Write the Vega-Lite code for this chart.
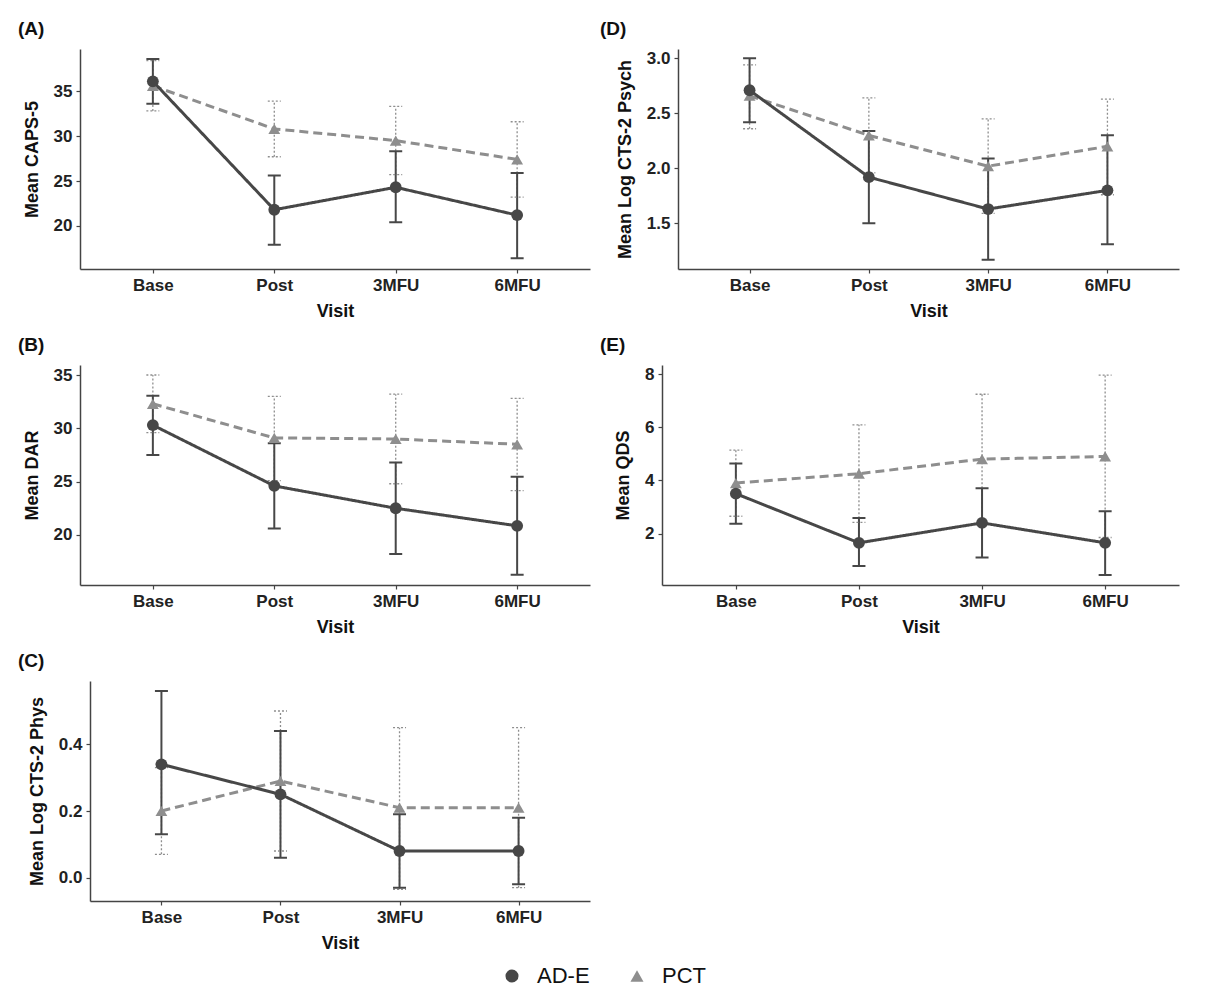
{
  "$schema": "https://vega.github.io/schema/vega-lite/v6.json",
  "padding": {"left": 18, "top": 20, "right": 10, "bottom": 10},
  "background": "white",
  "bounds": "flush",
  "spacing": 316,
  "data": {"values": [
    {"panel": "A", "group": "PCT", "visit": "Base", "mean": 35.6, "lo": 32.8, "hi": 38.4},
    {"panel": "A", "group": "PCT", "visit": "Post", "mean": 30.8, "lo": 27.7, "hi": 33.9},
    {"panel": "A", "group": "PCT", "visit": "3MFU", "mean": 29.5, "lo": 25.7, "hi": 33.3},
    {"panel": "A", "group": "PCT", "visit": "6MFU", "mean": 27.4, "lo": 23.2, "hi": 31.6},
    {"panel": "A", "group": "AD-E", "visit": "Base", "mean": 36.1, "lo": 33.6, "hi": 38.6},
    {"panel": "A", "group": "AD-E", "visit": "Post", "mean": 21.8, "lo": 17.9, "hi": 25.6},
    {"panel": "A", "group": "AD-E", "visit": "3MFU", "mean": 24.3, "lo": 20.4, "hi": 28.3},
    {"panel": "A", "group": "AD-E", "visit": "6MFU", "mean": 21.2, "lo": 16.4, "hi": 25.9},
    {"panel": "D", "group": "PCT", "visit": "Base", "mean": 2.66, "lo": 2.36, "hi": 2.94},
    {"panel": "D", "group": "PCT", "visit": "Post", "mean": 2.30, "lo": 1.96, "hi": 2.64},
    {"panel": "D", "group": "PCT", "visit": "3MFU", "mean": 2.02, "lo": 1.59, "hi": 2.45},
    {"panel": "D", "group": "PCT", "visit": "6MFU", "mean": 2.20, "lo": 1.76, "hi": 2.63},
    {"panel": "D", "group": "AD-E", "visit": "Base", "mean": 2.71, "lo": 2.42, "hi": 3.00},
    {"panel": "D", "group": "AD-E", "visit": "Post", "mean": 1.92, "lo": 1.50, "hi": 2.34},
    {"panel": "D", "group": "AD-E", "visit": "3MFU", "mean": 1.63, "lo": 1.17, "hi": 2.09},
    {"panel": "D", "group": "AD-E", "visit": "6MFU", "mean": 1.80, "lo": 1.31, "hi": 2.30},
    {"panel": "B", "group": "PCT", "visit": "Base", "mean": 32.3, "lo": 29.6, "hi": 35.0},
    {"panel": "B", "group": "PCT", "visit": "Post", "mean": 29.1, "lo": 25.1, "hi": 33.0},
    {"panel": "B", "group": "PCT", "visit": "3MFU", "mean": 29.0, "lo": 24.8, "hi": 33.2},
    {"panel": "B", "group": "PCT", "visit": "6MFU", "mean": 28.5, "lo": 24.15, "hi": 32.8},
    {"panel": "B", "group": "AD-E", "visit": "Base", "mean": 30.3, "lo": 27.5, "hi": 33.05},
    {"panel": "B", "group": "AD-E", "visit": "Post", "mean": 24.6, "lo": 20.6, "hi": 28.6},
    {"panel": "B", "group": "AD-E", "visit": "3MFU", "mean": 22.5, "lo": 18.2, "hi": 26.8},
    {"panel": "B", "group": "AD-E", "visit": "6MFU", "mean": 20.85, "lo": 16.25, "hi": 25.45},
    {"panel": "E", "group": "PCT", "visit": "Base", "mean": 3.9, "lo": 2.65, "hi": 5.14},
    {"panel": "E", "group": "PCT", "visit": "Post", "mean": 4.25, "lo": 2.42, "hi": 6.09},
    {"panel": "E", "group": "PCT", "visit": "3MFU", "mean": 4.8, "lo": 2.35, "hi": 7.24},
    {"panel": "E", "group": "PCT", "visit": "6MFU", "mean": 4.9, "lo": 1.85, "hi": 7.96},
    {"panel": "E", "group": "AD-E", "visit": "Base", "mean": 3.5, "lo": 2.37, "hi": 4.63},
    {"panel": "E", "group": "AD-E", "visit": "Post", "mean": 1.65, "lo": 0.78, "hi": 2.58},
    {"panel": "E", "group": "AD-E", "visit": "3MFU", "mean": 2.4, "lo": 1.1, "hi": 3.7},
    {"panel": "E", "group": "AD-E", "visit": "6MFU", "mean": 1.65, "lo": 0.44, "hi": 2.84},
    {"panel": "C", "group": "PCT", "visit": "Base", "mean": 0.20, "lo": 0.07, "hi": 0.33},
    {"panel": "C", "group": "PCT", "visit": "Post", "mean": 0.29, "lo": 0.08, "hi": 0.50},
    {"panel": "C", "group": "PCT", "visit": "3MFU", "mean": 0.21, "lo": -0.035, "hi": 0.45},
    {"panel": "C", "group": "PCT", "visit": "6MFU", "mean": 0.21, "lo": -0.03, "hi": 0.45},
    {"panel": "C", "group": "AD-E", "visit": "Base", "mean": 0.34, "lo": 0.13, "hi": 0.56},
    {"panel": "C", "group": "AD-E", "visit": "Post", "mean": 0.25, "lo": 0.06, "hi": 0.44},
    {"panel": "C", "group": "AD-E", "visit": "3MFU", "mean": 0.08, "lo": -0.03, "hi": 0.19},
    {"panel": "C", "group": "AD-E", "visit": "6MFU", "mean": 0.08, "lo": -0.02, "hi": 0.18}
  ]},
  "vconcat": [
    {
      "bounds": "flush",
      "spacing": 88,
      "hconcat": [
        {
          "width": 510, "height": 220,
          "title": {"text": "(A)", "dx": -62, "offset": 10},
          "transform": [{"filter": "datum.panel === 'A'"}],
          "encoding": {
            "x": {"field": "visit", "type": "ordinal", "sort": ["Base", "Post", "3MFU", "6MFU"], "scale": {"type": "point", "padding": 0.6}, "title": "Visit"},
            "color": {"field": "group", "type": "nominal", "scale": {"domain": ["AD-E", "PCT"], "range": ["#474747", "#8e8e8e"]}, "legend": {"title": null, "orient": "none", "legendX": 421, "legendY": 916, "direction": "horizontal"}}
          },
          "layer": [
            {"mark": {"type": "rule"}, "encoding": {
              "y": {"field": "lo", "type": "quantitative", "scale": {"domain": [15.2, 39.7], "nice": false, "zero": false}, "axis": {"values": [20, 25, 30, 35]}, "title": "Mean CAPS-5"},
              "y2": {"field": "hi"},
              "strokeDash": {"condition": {"test": "datum.group === 'PCT'", "value": [2, 2]}, "value": [1, 0]},
              "strokeWidth": {"condition": {"test": "datum.group === 'PCT'", "value": 1.3}, "value": 2}}},
            {"mark": {"type": "point", "shape": "stroke", "size": 169, "filled": false, "opacity": 1}, "encoding": {
              "y": {"field": "lo", "type": "quantitative", "scale": {"domain": [15.2, 39.7], "nice": false, "zero": false}, "axis": {"values": [20, 25, 30, 35]}, "title": "Mean CAPS-5"},
              "strokeDash": {"condition": {"test": "datum.group === 'PCT'", "value": [2, 2]}, "value": [1, 0]},
              "strokeWidth": {"condition": {"test": "datum.group === 'PCT'", "value": 1.3}, "value": 2}}},
            {"mark": {"type": "point", "shape": "stroke", "size": 169, "filled": false, "opacity": 1}, "encoding": {
              "y": {"field": "hi", "type": "quantitative", "scale": {"domain": [15.2, 39.7], "nice": false, "zero": false}, "axis": {"values": [20, 25, 30, 35]}, "title": "Mean CAPS-5"},
              "strokeDash": {"condition": {"test": "datum.group === 'PCT'", "value": [2, 2]}, "value": [1, 0]},
              "strokeWidth": {"condition": {"test": "datum.group === 'PCT'", "value": 1.3}, "value": 2}}},
            {"mark": {"type": "line", "strokeWidth": 3}, "encoding": {
              "y": {"field": "mean", "type": "quantitative", "scale": {"domain": [15.2, 39.7], "nice": false, "zero": false}, "axis": {"values": [20, 25, 30, 35]}, "title": "Mean CAPS-5"},
              "strokeDash": {"condition": {"test": "datum.group === 'PCT'", "value": [9, 5]}, "value": [1, 0]}}},
            {"mark": {"type": "point", "filled": true, "size": 140, "opacity": 1}, "encoding": {
              "y": {"field": "mean", "type": "quantitative", "scale": {"domain": [15.2, 39.7], "nice": false, "zero": false}, "axis": {"values": [20, 25, 30, 35]}, "title": "Mean CAPS-5"},
              "shape": {"field": "group", "type": "nominal", "scale": {"domain": ["AD-E", "PCT"], "range": ["circle", "triangle-up"]}, "legend": {"title": null, "orient": "none", "legendX": 421, "legendY": 916, "direction": "horizontal"}}}}
          ]
        },
        {
          "width": 501, "height": 220,
          "title": {"text": "(D)", "dx": -78, "offset": 10},
          "transform": [{"filter": "datum.panel === 'D'"}],
          "encoding": {
            "x": {"field": "visit", "type": "ordinal", "sort": ["Base", "Post", "3MFU", "6MFU"], "scale": {"type": "point", "padding": 0.6}, "title": "Visit"},
            "color": {"field": "group", "type": "nominal", "scale": {"domain": ["AD-E", "PCT"], "range": ["#474747", "#8e8e8e"]}, "legend": {"title": null, "orient": "none", "legendX": 421, "legendY": 916, "direction": "horizontal"}}
          },
          "layer": [
            {"mark": {"type": "rule"}, "encoding": {
              "y": {"field": "lo", "type": "quantitative", "scale": {"domain": [1.085, 3.085], "nice": false, "zero": false}, "axis": {"values": [1.5, 2.0, 2.5, 3.0], "format": ".1f"}, "title": "Mean Log CTS-2 Psych"},
              "y2": {"field": "hi"},
              "strokeDash": {"condition": {"test": "datum.group === 'PCT'", "value": [2, 2]}, "value": [1, 0]},
              "strokeWidth": {"condition": {"test": "datum.group === 'PCT'", "value": 1.3}, "value": 2}}},
            {"mark": {"type": "point", "shape": "stroke", "size": 169, "filled": false, "opacity": 1}, "encoding": {
              "y": {"field": "lo", "type": "quantitative", "scale": {"domain": [1.085, 3.085], "nice": false, "zero": false}, "axis": {"values": [1.5, 2.0, 2.5, 3.0], "format": ".1f"}, "title": "Mean Log CTS-2 Psych"},
              "strokeDash": {"condition": {"test": "datum.group === 'PCT'", "value": [2, 2]}, "value": [1, 0]},
              "strokeWidth": {"condition": {"test": "datum.group === 'PCT'", "value": 1.3}, "value": 2}}},
            {"mark": {"type": "point", "shape": "stroke", "size": 169, "filled": false, "opacity": 1}, "encoding": {
              "y": {"field": "hi", "type": "quantitative", "scale": {"domain": [1.085, 3.085], "nice": false, "zero": false}, "axis": {"values": [1.5, 2.0, 2.5, 3.0], "format": ".1f"}, "title": "Mean Log CTS-2 Psych"},
              "strokeDash": {"condition": {"test": "datum.group === 'PCT'", "value": [2, 2]}, "value": [1, 0]},
              "strokeWidth": {"condition": {"test": "datum.group === 'PCT'", "value": 1.3}, "value": 2}}},
            {"mark": {"type": "line", "strokeWidth": 3}, "encoding": {
              "y": {"field": "mean", "type": "quantitative", "scale": {"domain": [1.085, 3.085], "nice": false, "zero": false}, "axis": {"values": [1.5, 2.0, 2.5, 3.0], "format": ".1f"}, "title": "Mean Log CTS-2 Psych"},
              "strokeDash": {"condition": {"test": "datum.group === 'PCT'", "value": [9, 5]}, "value": [1, 0]}}},
            {"mark": {"type": "point", "filled": true, "size": 140, "opacity": 1}, "encoding": {
              "y": {"field": "mean", "type": "quantitative", "scale": {"domain": [1.085, 3.085], "nice": false, "zero": false}, "axis": {"values": [1.5, 2.0, 2.5, 3.0], "format": ".1f"}, "title": "Mean Log CTS-2 Psych"},
              "shape": {"field": "group", "type": "nominal", "scale": {"domain": ["AD-E", "PCT"], "range": ["circle", "triangle-up"]}, "legend": {"title": null, "orient": "none", "legendX": 421, "legendY": 916, "direction": "horizontal"}}}}
          ]
        }
      ]
    },
    {
      "bounds": "flush",
      "spacing": 72,
      "hconcat": [
        {
          "width": 510, "height": 220,
          "title": {"text": "(B)", "dx": -62, "offset": 10},
          "transform": [{"filter": "datum.panel === 'B'"}],
          "encoding": {
            "x": {"field": "visit", "type": "ordinal", "sort": ["Base", "Post", "3MFU", "6MFU"], "scale": {"type": "point", "padding": 0.6}, "title": "Visit"},
            "color": {"field": "group", "type": "nominal", "scale": {"domain": ["AD-E", "PCT"], "range": ["#474747", "#8e8e8e"]}, "legend": {"title": null, "orient": "none", "legendX": 421, "legendY": 916, "direction": "horizontal"}}
          },
          "layer": [
            {"mark": {"type": "rule"}, "encoding": {
              "y": {"field": "lo", "type": "quantitative", "scale": {"domain": [15.3, 35.94], "nice": false, "zero": false}, "axis": {"values": [20, 25, 30, 35]}, "title": "Mean DAR"},
              "y2": {"field": "hi"},
              "strokeDash": {"condition": {"test": "datum.group === 'PCT'", "value": [2, 2]}, "value": [1, 0]},
              "strokeWidth": {"condition": {"test": "datum.group === 'PCT'", "value": 1.3}, "value": 2}}},
            {"mark": {"type": "point", "shape": "stroke", "size": 169, "filled": false, "opacity": 1}, "encoding": {
              "y": {"field": "lo", "type": "quantitative", "scale": {"domain": [15.3, 35.94], "nice": false, "zero": false}, "axis": {"values": [20, 25, 30, 35]}, "title": "Mean DAR"},
              "strokeDash": {"condition": {"test": "datum.group === 'PCT'", "value": [2, 2]}, "value": [1, 0]},
              "strokeWidth": {"condition": {"test": "datum.group === 'PCT'", "value": 1.3}, "value": 2}}},
            {"mark": {"type": "point", "shape": "stroke", "size": 169, "filled": false, "opacity": 1}, "encoding": {
              "y": {"field": "hi", "type": "quantitative", "scale": {"domain": [15.3, 35.94], "nice": false, "zero": false}, "axis": {"values": [20, 25, 30, 35]}, "title": "Mean DAR"},
              "strokeDash": {"condition": {"test": "datum.group === 'PCT'", "value": [2, 2]}, "value": [1, 0]},
              "strokeWidth": {"condition": {"test": "datum.group === 'PCT'", "value": 1.3}, "value": 2}}},
            {"mark": {"type": "line", "strokeWidth": 3}, "encoding": {
              "y": {"field": "mean", "type": "quantitative", "scale": {"domain": [15.3, 35.94], "nice": false, "zero": false}, "axis": {"values": [20, 25, 30, 35]}, "title": "Mean DAR"},
              "strokeDash": {"condition": {"test": "datum.group === 'PCT'", "value": [9, 5]}, "value": [1, 0]}}},
            {"mark": {"type": "point", "filled": true, "size": 140, "opacity": 1}, "encoding": {
              "y": {"field": "mean", "type": "quantitative", "scale": {"domain": [15.3, 35.94], "nice": false, "zero": false}, "axis": {"values": [20, 25, 30, 35]}, "title": "Mean DAR"},
              "shape": {"field": "group", "type": "nominal", "scale": {"domain": ["AD-E", "PCT"], "range": ["circle", "triangle-up"]}, "legend": {"title": null, "orient": "none", "legendX": 421, "legendY": 916, "direction": "horizontal"}}}}
          ]
        },
        {
          "width": 517, "height": 220,
          "title": {"text": "(E)", "dx": -62, "offset": 10},
          "transform": [{"filter": "datum.panel === 'E'"}],
          "encoding": {
            "x": {"field": "visit", "type": "ordinal", "sort": ["Base", "Post", "3MFU", "6MFU"], "scale": {"type": "point", "padding": 0.6}, "title": "Visit"},
            "color": {"field": "group", "type": "nominal", "scale": {"domain": ["AD-E", "PCT"], "range": ["#474747", "#8e8e8e"]}, "legend": {"title": null, "orient": "none", "legendX": 421, "legendY": 916, "direction": "horizontal"}}
          },
          "layer": [
            {"mark": {"type": "rule"}, "encoding": {
              "y": {"field": "lo", "type": "quantitative", "scale": {"domain": [0.064, 8.34], "nice": false, "zero": false}, "axis": {"values": [2, 4, 6, 8]}, "title": "Mean QDS"},
              "y2": {"field": "hi"},
              "strokeDash": {"condition": {"test": "datum.group === 'PCT'", "value": [2, 2]}, "value": [1, 0]},
              "strokeWidth": {"condition": {"test": "datum.group === 'PCT'", "value": 1.3}, "value": 2}}},
            {"mark": {"type": "point", "shape": "stroke", "size": 169, "filled": false, "opacity": 1}, "encoding": {
              "y": {"field": "lo", "type": "quantitative", "scale": {"domain": [0.064, 8.34], "nice": false, "zero": false}, "axis": {"values": [2, 4, 6, 8]}, "title": "Mean QDS"},
              "strokeDash": {"condition": {"test": "datum.group === 'PCT'", "value": [2, 2]}, "value": [1, 0]},
              "strokeWidth": {"condition": {"test": "datum.group === 'PCT'", "value": 1.3}, "value": 2}}},
            {"mark": {"type": "point", "shape": "stroke", "size": 169, "filled": false, "opacity": 1}, "encoding": {
              "y": {"field": "hi", "type": "quantitative", "scale": {"domain": [0.064, 8.34], "nice": false, "zero": false}, "axis": {"values": [2, 4, 6, 8]}, "title": "Mean QDS"},
              "strokeDash": {"condition": {"test": "datum.group === 'PCT'", "value": [2, 2]}, "value": [1, 0]},
              "strokeWidth": {"condition": {"test": "datum.group === 'PCT'", "value": 1.3}, "value": 2}}},
            {"mark": {"type": "line", "strokeWidth": 3}, "encoding": {
              "y": {"field": "mean", "type": "quantitative", "scale": {"domain": [0.064, 8.34], "nice": false, "zero": false}, "axis": {"values": [2, 4, 6, 8]}, "title": "Mean QDS"},
              "strokeDash": {"condition": {"test": "datum.group === 'PCT'", "value": [9, 5]}, "value": [1, 0]}}},
            {"mark": {"type": "point", "filled": true, "size": 140, "opacity": 1}, "encoding": {
              "y": {"field": "mean", "type": "quantitative", "scale": {"domain": [0.064, 8.34], "nice": false, "zero": false}, "axis": {"values": [2, 4, 6, 8]}, "title": "Mean QDS"},
              "shape": {"field": "group", "type": "nominal", "scale": {"domain": ["AD-E", "PCT"], "range": ["circle", "triangle-up"]}, "legend": {"title": null, "orient": "none", "legendX": 421, "legendY": 916, "direction": "horizontal"}}}}
          ]
        }
      ]
    },
    {
      "bounds": "flush",
      "spacing": 9,
      "hconcat": [
        {"width": 1, "height": 1, "data": {"values": []}, "mark": {"type": "text"}, "encoding": {}},
        {
          "width": 500, "height": 220,
          "title": {"text": "(C)", "dx": -72, "offset": 10},
          "transform": [{"filter": "datum.panel === 'C'"}],
          "encoding": {
            "x": {"field": "visit", "type": "ordinal", "sort": ["Base", "Post", "3MFU", "6MFU"], "scale": {"type": "point", "padding": 0.6}, "title": "Visit"},
            "color": {"field": "group", "type": "nominal", "scale": {"domain": ["AD-E", "PCT"], "range": ["#474747", "#8e8e8e"]}, "legend": {"title": null, "orient": "none", "legendX": 421, "legendY": 916, "direction": "horizontal"}}
          },
          "layer": [
            {"mark": {"type": "rule"}, "encoding": {
              "y": {"field": "lo", "type": "quantitative", "scale": {"domain": [-0.07, 0.59], "nice": false, "zero": false}, "axis": {"values": [0.0, 0.2, 0.4], "format": ".1f"}, "title": "Mean Log CTS-2 Phys"},
              "y2": {"field": "hi"},
              "strokeDash": {"condition": {"test": "datum.group === 'PCT'", "value": [2, 2]}, "value": [1, 0]},
              "strokeWidth": {"condition": {"test": "datum.group === 'PCT'", "value": 1.3}, "value": 2}}},
            {"mark": {"type": "point", "shape": "stroke", "size": 169, "filled": false, "opacity": 1}, "encoding": {
              "y": {"field": "lo", "type": "quantitative", "scale": {"domain": [-0.07, 0.59], "nice": false, "zero": false}, "axis": {"values": [0.0, 0.2, 0.4], "format": ".1f"}, "title": "Mean Log CTS-2 Phys"},
              "strokeDash": {"condition": {"test": "datum.group === 'PCT'", "value": [2, 2]}, "value": [1, 0]},
              "strokeWidth": {"condition": {"test": "datum.group === 'PCT'", "value": 1.3}, "value": 2}}},
            {"mark": {"type": "point", "shape": "stroke", "size": 169, "filled": false, "opacity": 1}, "encoding": {
              "y": {"field": "hi", "type": "quantitative", "scale": {"domain": [-0.07, 0.59], "nice": false, "zero": false}, "axis": {"values": [0.0, 0.2, 0.4], "format": ".1f"}, "title": "Mean Log CTS-2 Phys"},
              "strokeDash": {"condition": {"test": "datum.group === 'PCT'", "value": [2, 2]}, "value": [1, 0]},
              "strokeWidth": {"condition": {"test": "datum.group === 'PCT'", "value": 1.3}, "value": 2}}},
            {"mark": {"type": "line", "strokeWidth": 3}, "encoding": {
              "y": {"field": "mean", "type": "quantitative", "scale": {"domain": [-0.07, 0.59], "nice": false, "zero": false}, "axis": {"values": [0.0, 0.2, 0.4], "format": ".1f"}, "title": "Mean Log CTS-2 Phys"},
              "strokeDash": {"condition": {"test": "datum.group === 'PCT'", "value": [9, 5]}, "value": [1, 0]}}},
            {"mark": {"type": "point", "filled": true, "size": 140, "opacity": 1}, "encoding": {
              "y": {"field": "mean", "type": "quantitative", "scale": {"domain": [-0.07, 0.59], "nice": false, "zero": false}, "axis": {"values": [0.0, 0.2, 0.4], "format": ".1f"}, "title": "Mean Log CTS-2 Phys"},
              "shape": {"field": "group", "type": "nominal", "scale": {"domain": ["AD-E", "PCT"], "range": ["circle", "triangle-up"]}, "legend": {"title": null, "orient": "none", "legendX": 421, "legendY": 916, "direction": "horizontal"}}}}
          ]
        }
      ]
    }
  ],
  "config": {
    "font": "Liberation Sans",
    "view": {"stroke": null},
    "axis": {"grid": false, "domainColor": "#444444", "domainWidth": 1.5, "tickColor": "#444444", "tickWidth": 1.2, "tickSize": 4, "labelFont": "Liberation Sans", "labelFontSize": 17, "labelFontWeight": "bold", "labelColor": "#222222", "labelPadding": 4, "titleFont": "Liberation Sans", "titleFontSize": 18, "titleFontWeight": "bold", "titleColor": "#111111"},
    "axisX": {"labelAngle": 0, "titlePadding": 9},
    "axisY": {"titlePadding": 12},
    "title": {"anchor": "start", "frame": "group", "fontSize": 19, "fontWeight": "bold", "font": "Liberation Sans", "color": "#111111"},
    "legend": {"labelFont": "Liberation Sans", "labelFontSize": 22, "labelColor": "#111111", "symbolSize": 170, "columnPadding": 36, "labelOffset": 14, "symbolStrokeWidth": 0, "symbolOpacity": 1}
  }
}
